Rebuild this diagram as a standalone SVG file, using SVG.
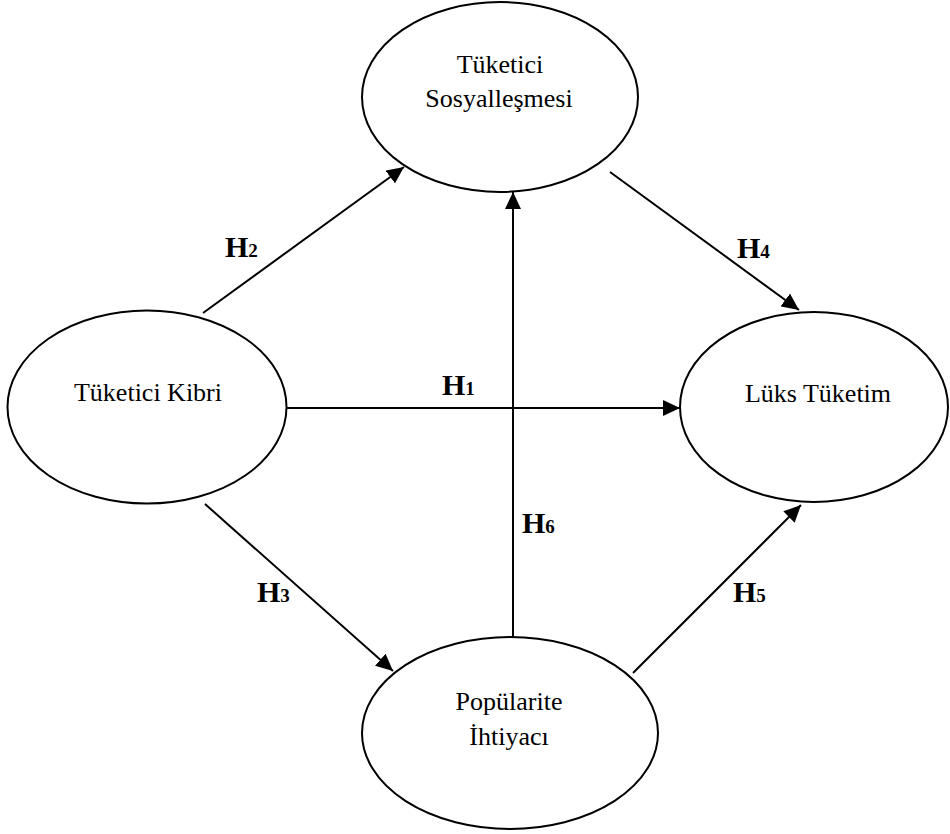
<svg xmlns="http://www.w3.org/2000/svg" width="950" height="834" viewBox="0 0 950 834">
  <defs>
    <style>
      .node ellipse { fill: #ffffff; stroke: #000000; stroke-width: 2; }
      .node text { font-family: "Liberation Serif", "Times New Roman", serif; font-size: 26px; fill: #000000; text-anchor: middle; }
      .edge line { stroke: #000000; stroke-width: 2; marker-end: url(#arrow); }
      .label { font-family: "Liberation Serif", "Times New Roman", serif; font-weight: bold; font-size: 30px; fill: #000000; }
      .label .sub { font-size: 19px; }
    </style>
    <marker id="arrow" markerUnits="userSpaceOnUse" markerWidth="18" markerHeight="16" viewBox="0 0 18 16" refX="17" refY="8" orient="auto">
      <path d="M0,0 L17,8 L0,16 Z" fill="#000000"/>
    </marker>
  </defs>
  <rect width="950" height="834" fill="#ffffff"/>

  <!-- connectors -->
  <g id="connectors" class="edge">
    <line x1="203" y1="313" x2="404" y2="167"/>
    <line x1="610" y1="172" x2="799" y2="310"/>
    <line x1="287" y1="408" x2="680" y2="408"/>
    <line x1="513" y1="637" x2="513" y2="192"/>
    <line x1="205" y1="504" x2="393" y2="671"/>
    <line x1="633" y1="673" x2="801" y2="505"/>
  </g>

  <!-- path labels -->
  <g id="labels">
    <text class="label" x="225" y="257">H<tspan class="sub">2</tspan></text>
    <text class="label" x="442" y="395">H<tspan class="sub">1</tspan></text>
    <text class="label" x="737" y="258">H<tspan class="sub">4</tspan></text>
    <text class="label" x="257" y="602">H<tspan class="sub">3</tspan></text>
    <text class="label" x="733" y="602">H<tspan class="sub">5</tspan></text>
    <text class="label" x="522" y="533">H<tspan class="sub">6</tspan></text>
  </g>

  <!-- constructs -->
  <g id="tuketici-sosyallesmesi" class="node">
    <ellipse cx="500" cy="97" rx="138" ry="95"/>
    <text x="500" y="73">Tüketici</text>
    <text x="499" y="107">Sosyalleşmesi</text>
  </g>
  <g id="tuketici-kibri" class="node">
    <ellipse cx="147" cy="407" rx="139.5" ry="96.5"/>
    <text x="148" y="401">Tüketici Kibri</text>
  </g>
  <g id="luks-tuketim" class="node">
    <ellipse cx="814" cy="407" rx="134" ry="95"/>
    <text x="818" y="402">Lüks Tüketim</text>
  </g>
  <g id="popularite-ihtiyaci" class="node">
    <ellipse cx="510" cy="733" rx="148" ry="96"/>
    <text x="509" y="710">Popülarite</text>
    <text x="509" y="745">İhtiyacı</text>
  </g>
</svg>
